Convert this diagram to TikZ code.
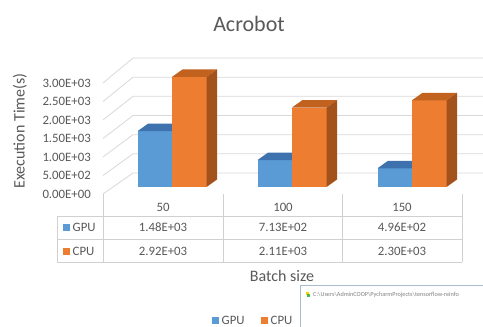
\documentclass[tikz,border=0pt]{standalone}
\usepackage{fontspec}
\setmainfont{Carlito}
\definecolor{txt}{HTML}{595959}
\definecolor{gridc}{HTML}{D9D9D9}
\definecolor{tablec}{HTML}{D0D0D0}
\definecolor{gpuF}{HTML}{5B9BD5}
\definecolor{gpuT}{HTML}{3E72AE}
\definecolor{cpuF}{HTML}{ED7D31}
\definecolor{cpuT}{HTML}{C2621F}
\definecolor{cpuS}{HTML}{A3521C}
\definecolor{winborder}{HTML}{A9BCD0}
% 3-D column: left x, right x, top y, front, top and side colours
\newcommand\columnthreed[6]{%
  \fill[#4] (#1,187) rectangle (#2,#3);
  \fill[#5] (#1,#3) -- (#2,#3) -- (#2+10.5,#3-7.5) -- (#1+10.5,#3-7.5) -- cycle;
  \fill[#6] (#2,#3) -- (#2+10.5,#3-7.5) -- (#2+10.5,179.5) -- (#2,187) -- cycle;
}
\begin{document}
\begin{tikzpicture}[x=1pt,y=-1pt,
  title/.style={text=txt,font=\fontsize{22}{26}\selectfont,inner sep=0pt},
  axtitle/.style={text=txt,font=\fontsize{16}{19}\selectfont,inner sep=0pt},
  tick/.style={text=txt,font=\fontsize{12.8}{15}\selectfont,inner sep=0pt},
  cell/.style={text=txt,font=\fontsize{12.8}{15}\selectfont,inner sep=0pt},
  gridline/.style={draw=gridc,line width=0.8pt},
  tableline/.style={draw=tablec,line width=0.8pt},
  key/.style={minimum size=7pt,inner sep=0pt},
]
\useasboundingbox[fill=white] (0,0) rectangle (483,327);
\begin{scope}
\clip (0,0) rectangle (483,327);
% left wall and back wall gridlines
\foreach \k in {0,...,6}{
  \coordinate (wf\k) at (103,194-\k*18.5);
  \coordinate (wb\k) at (133,173-\k*19.17);
  \coordinate (we\k) at (495,173-\k*19.17);
  \draw[gridline] (wf\k) -- (wb\k) -- (we\k);
}
\end{scope}
% columns
\columnthreed{137.5}{172}{131.2}{gpuF}{gpuT}{gpuF}
\columnthreed{172}{206.5}{76.9}{cpuF}{cpuT}{cpuS}
\columnthreed{257.5}{292}{160.1}{gpuF}{gpuT}{gpuF}
\columnthreed{292}{326.5}{107.5}{cpuF}{cpuT}{cpuS}
\columnthreed{377.5}{412}{168.3}{gpuF}{gpuT}{gpuF}
\columnthreed{412}{446.5}{100.3}{cpuF}{cpuT}{cpuS}
% titles
\node[title] (title) at (249,24) {Acrobot};
\node[axtitle,rotate=90] (ytitle) at (20,131) {Execution Time(s)};
\node[axtitle] (xtitle) at (282,276) {Batch size};
% value axis labels
\foreach \v [count=\i from 0] in {0.00E+00,5.00E+02,1.00E+03,1.50E+03,2.00E+03,2.50E+03,3.00E+03}{
  \node[tick,anchor=east] (tick\i) at (91,194-\i*18.5) {\v};
}
% data table
\coordinate (c0t) at (103,194);
\coordinate (c1t) at (223,194);
\coordinate (c2t) at (342,194);
\coordinate (c3t) at (462,194);
\coordinate (c0b) at (103,262);
\coordinate (c1b) at (223,262);
\coordinate (c2b) at (342,262);
\coordinate (c3b) at (462,262);
\coordinate (r0l) at (57,216.5);
\coordinate (r0r) at (462,216.5);
\coordinate (r1l) at (57,239.5);
\coordinate (r1r) at (462,239.5);
\coordinate (r2l) at (57,262);
\coordinate (r2r) at (462,262);
\draw[tableline] (c0t) -- (c0b) (c1t) -- (c1b) (c2t) -- (c2b) (c3t) -- (c3b);
\draw[tableline] (r0l) -- (r0r) (r1l) -- (r1r) (r2l) -- (r2r) (r0l) -- (r2l);
\node[cell] (h1) at (163,207) {50};
\node[cell] (h2) at (283,207) {100};
\node[cell] (h3) at (402,207) {150};
\node[key,fill=gpuF] (kg) at (66,227.5) {};
\node[cell,anchor=west] (lg) at (72.5,227.5) {GPU};
\node[key,fill=cpuF] (kc) at (66,251) {};
\node[cell,anchor=west] (lc) at (72.5,251) {CPU};
\node[cell] (g1) at (163,227.5) {1.48E+03};
\node[cell] (g2) at (283,227.5) {7.13E+02};
\node[cell] (g3) at (402,227.5) {4.96E+02};
\node[cell] (p1) at (163,251) {2.92E+03};
\node[cell] (p2) at (283,251) {2.11E+03};
\node[cell] (p3) at (402,251) {2.30E+03};
% legend
\node[key,fill=gpuF] (lk1) at (215.5,320.5) {};
\node[cell,anchor=west] (lt1) at (221.5,320.5) {GPU};
\node[key,fill=cpuF] (lk2) at (264.5,320.5) {};
\node[cell,anchor=west] (lt2) at (270.5,320.5) {CPU};
% console window overlapping the corner
\begin{scope}
\clip (0,0) rectangle (483,327);
\draw[winborder,fill=white,line width=0.8pt] (300.5,285.5) rectangle (490,335);
\fill[yellow!70!orange] (305.5,292) rectangle (308.5,295);
\fill[green!45!gray] (307,293.5) rectangle (310,296.5);
\node[anchor=west,text=gray,font=\fontsize{6.2}{7}\selectfont,inner sep=0pt] (path) at (313,295)
  {C:\textbackslash Users\textbackslash AdminCOOP\textbackslash PycharmProjects\textbackslash tensorflow-reinfo};
\end{scope}
\end{tikzpicture}
\end{document}
